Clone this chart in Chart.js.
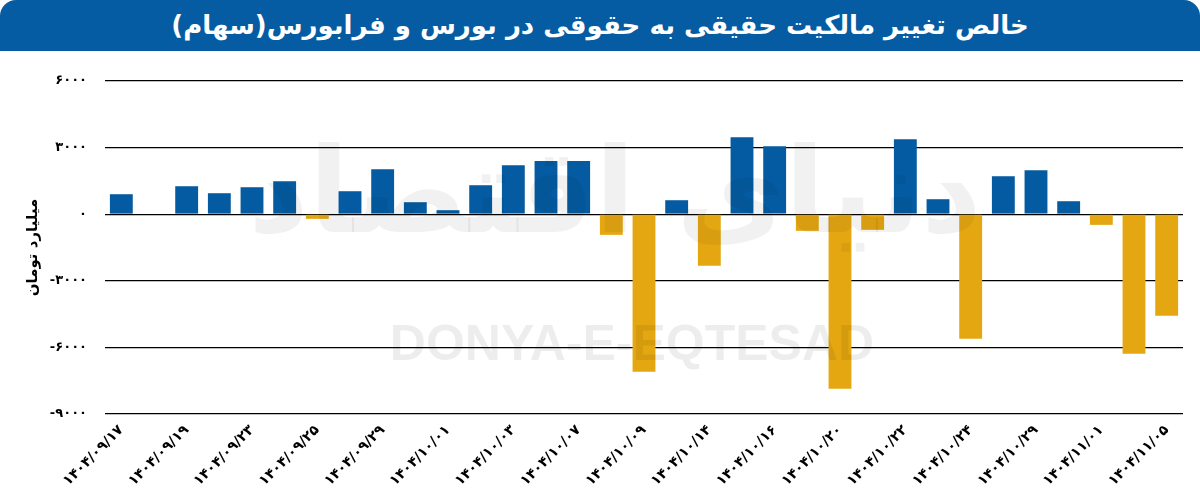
<!DOCTYPE html>
<html>
<head>
<meta charset="utf-8">
<script src="https://cdn.jsdelivr.net/npm/chart.js@4/dist/chart.umd.min.js"></script>
<style>
  html, body { margin: 0; padding: 0; background: #fff; }
  body { width: 1200px; height: 502px; overflow: hidden; }
  .title-bar {
    height: 51px;
    background: #055ca3;
    border-radius: 16px 16px 0 0;
    color: #fff;
    font-family: "DejaVu Sans", sans-serif;
    font-weight: bold;
    font-size: 26px;
    text-align: center;
    line-height: 50px;
  }
  .chart-box { position: relative; width: 1200px; height: 451px; }
</style>
</head>
<body>
<div class="title-bar" dir="rtl">خالص تغییر مالکیت حقیقی به حقوقی در بورس و فرابورس(سهام)</div>
<div class="chart-box"><canvas id="myChart"></canvas></div>
<script>
// dates (every other one is printed on the axis)
const dates = [
  "1404/09/17", "1404/09/18", "1404/09/19", "1404/09/22", "1404/09/23", "1404/09/24",
  "1404/09/25", "1404/09/26", "1404/09/29", "1404/09/30", "1404/10/01", "1404/10/02",
  "1404/10/03", "1404/10/06", "1404/10/07", "1404/10/08", "1404/10/09", "1404/10/13",
  "1404/10/14", "1404/10/15", "1404/10/16", "1404/10/17", "1404/10/20", "1404/10/21",
  "1404/10/22", "1404/10/23", "1404/10/24", "1404/10/27", "1404/10/29", "1404/10/30",
  "1404/11/01", "1404/11/04", "1404/11/05"
];

// net change, billion toman
const netChange = [
  900, 0, 1260, 945, 1215, 1485,
  -210, 1035, 2025, 540, 180, 1305,
  2205, 2400, 2400, -930, -7095, 630,
  -2325, 3465, 3060, -750, -7860, -705,
  3375, 675, -5610, 1710, 1980, 585,
  -480, -6285, -4575
];

const yTicks = [6000, 3000, 0, -3000, -6000, -9000];

const faDigits = "۰۱۲۳۴۵۶۷۸۹";
const toFa = (s) => String(s).replace(/[0-9]/g, (d) => faDigits[d]);

const blue = "#045ba1";
const orange = "#e5a711";
const fontFa = "'DejaVu Sans', sans-serif";

// faint logo text like the original picture
const watermark = {
  id: "watermark",
  afterDatasetsDraw(chart) {
    const ctx = chart.ctx;
    ctx.save();
    ctx.fillStyle = "rgba(0,0,0,0.055)";
    ctx.textAlign = "center";
    ctx.textBaseline = "middle";
    ctx.font = "bold 118px " + fontFa;
    ctx.direction = "rtl";
    ctx.fillText("دنیای اقتصاد", 615, 150);
    ctx.direction = "ltr";
    ctx.fillStyle = "rgba(0,0,0,0.07)";
    ctx.font = "bold 50px 'Liberation Sans', sans-serif";
    ctx.fillText("DONYA-E-EQTESAD", 632, 295);
    ctx.restore();
  }
};

const ctx = document.getElementById("myChart").getContext("2d");
const myChart = new Chart(ctx, {
  type: "bar",
  data: {
    labels: dates,
    datasets: [
      {
        data: netChange,
        backgroundColor: (c) => (c.raw < 0 ? orange : blue),
        barPercentage: 0.7,
        categoryPercentage: 1.0,
        borderWidth: 0,
      },
    ],
  },
  plugins: [watermark],
  options: {
    responsive: true,
    maintainAspectRatio: false,
    animation: false,
    layout: { padding: { top: 30, right: 17, left: 0, bottom: 0 } },
    plugins: {
      legend: { display: false },
      tooltip: { enabled: false },
    },
    scales: {
      x: {
        grid: { display: false, drawTicks: false },
        border: { display: false },
        ticks: {
          autoSkip: false,
          maxRotation: 45,
          minRotation: 45,
          padding: 8,
          color: "#000",
          font: { family: fontFa, size: 14, weight: "bold" },
          callback: function (value, index) {
            return index % 2 === 0 ? toFa(this.getLabelForValue(value)) : "";
          },
        },
        afterFit: (scale) => { scale.height = 88; },
      },
      y: {
        min: -9000,
        max: 6000,
        afterBuildTicks: (scale) => {
          scale.ticks = yTicks.map((v) => ({ value: v }));
        },
        grid: { color: "#000", lineWidth: 1.2, drawTicks: false },
        border: { display: false },
        ticks: {
          padding: 18,
          color: "#000",
          font: { family: fontFa, size: 13, weight: "bold" },
          callback: (v) => toFa(v),
        },
        title: {
          display: true,
          text: "میلیارد تومان",
          color: "#000",
          padding: { top: 24, bottom: 0 },
          font: { family: fontFa, size: 15, weight: "bold" },
        },
        afterFit: (scale) => { scale.width = 105; },
      },
    },
  },
});
</script>
</body>
</html>
